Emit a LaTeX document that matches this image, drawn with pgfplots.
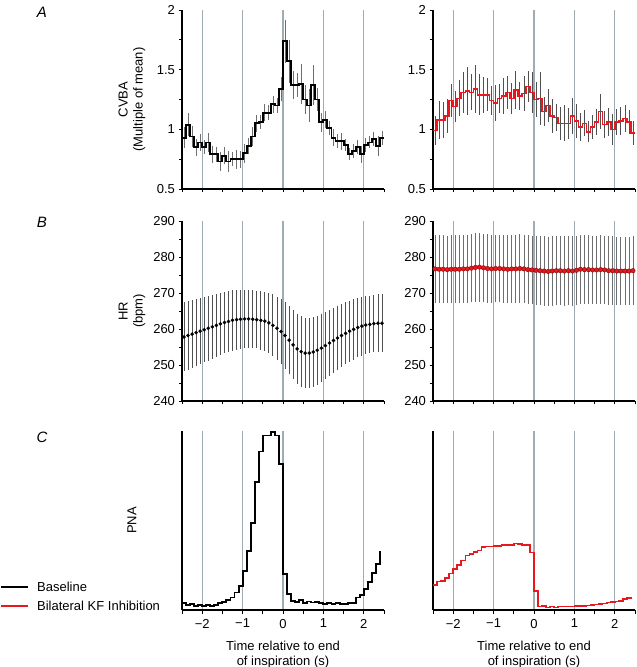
\documentclass[border=0pt]{standalone}
\usepackage{fontspec}
\setmainfont{Liberation Sans}
\usepackage{pgfplots}
\pgfplotsset{compat=1.18}
\usepackage{pgfplotstable}

\definecolor{gridc}{RGB}{160,172,180}
\definecolor{kfred}{RGB}{232,24,30}
\definecolor{kfdark}{RGB}{140,10,10}
\definecolor{errgray}{RGB}{110,110,110}
\definecolor{errdark}{RGB}{80,80,80}
\newcommand{\lab}{\fontsize{13}{15}\selectfont}

% CVBA, bins of 0.1 s (left edge), mean and SEM
\pgfplotstableread{
x y e
-2.5 0.93 0.09
-2.4 1.04 0.10
-2.3 0.94 0.09
-2.2 0.85 0.07
-2.1 0.89 0.07
-2.0 0.85 0.06
-1.9 0.89 0.08
-1.8 0.79 0.07
-1.7 0.79 0.06
-1.6 0.73 0.08
-1.5 0.78 0.07
-1.4 0.73 0.09
-1.3 0.75 0.06
-1.2 0.75 0.08
-1.1 0.75 0.07
-1.0 0.80 0.08
-0.9 0.86 0.07
-0.8 0.94 0.08
-0.7 1.05 0.07
-0.6 1.06 0.06
-0.5 1.14 0.07
-0.4 1.14 0.06
-0.3 1.21 0.07
-0.2 1.20 0.06
-0.1 1.34 0.10
0.0 1.74 0.18
0.1 1.57 0.18
0.2 1.37 0.12
0.3 1.37 0.10
0.4 1.38 0.17
0.5 1.25 0.12
0.6 1.20 0.14
0.7 1.37 0.17
0.8 1.25 0.10
0.9 1.06 0.08
1.0 1.08 0.07
1.1 1.01 0.06
1.2 0.93 0.07
1.3 0.90 0.06
1.4 0.90 0.07
1.5 0.87 0.05
1.6 0.79 0.05
1.7 0.82 0.06
1.8 0.85 0.06
1.9 0.79 0.07
2.0 0.87 0.06
2.1 0.89 0.05
2.2 0.92 0.06
2.3 0.86 0.08
2.4 0.93 0.06
2.5 0.93 0
}\Aleft

\pgfplotstableread{
x y e
-2.5 0.99 0.12
-2.4 1.08 0.16
-2.3 1.08 0.15
-2.2 1.11 0.14
-2.1 1.24 0.14
-2.0 1.19 0.13
-1.9 1.26 0.15
-1.8 1.31 0.17
-1.7 1.32 0.20
-1.6 1.31 0.15
-1.5 1.34 0.20
-1.4 1.29 0.17
-1.3 1.29 0.15
-1.2 1.29 0.14
-1.1 1.24 0.12
-1.0 1.22 0.15
-0.9 1.26 0.12
-0.8 1.28 0.15
-0.7 1.31 0.14
-0.6 1.26 0.13
-0.5 1.33 0.16
-0.4 1.28 0.12
-0.3 1.30 0.15
-0.2 1.36 0.13
-0.1 1.31 0.17
0.0 1.25 0.15
0.1 1.26 0.22
0.2 1.15 0.12
0.3 1.20 0.14
0.4 1.11 0.14
0.5 1.10 0.11
0.6 1.05 0.14
0.7 1.05 0.15
0.8 1.05 0.13
0.9 1.11 0.15
1.0 1.07 0.14
1.1 1.02 0.12
1.2 1.05 0.11
1.3 0.98 0.09
1.4 1.02 0.10
1.5 1.06 0.11
1.6 1.15 0.15
1.7 1.04 0.11
1.8 1.06 0.12
1.9 1.00 0.13
2.0 1.06 0.11
2.1 1.07 0.12
2.2 1.09 0.11
2.3 1.06 0.10
2.4 0.97 0.10
2.5 0.97 0
}\Aright

% HR, mean and SD
\pgfplotstableread{
x y e
-2.45 257.8 9.6
-2.35 258.2 9.5
-2.25 258.6 9.4
-2.15 259.0 9.3
-2.05 259.4 9.2
-1.95 259.8 9.1
-1.85 260.2 9.0
-1.75 260.6 8.9
-1.65 261.0 8.8
-1.55 261.4 8.7
-1.45 261.8 8.6
-1.35 262.1 8.5
-1.25 262.4 8.4
-1.15 262.6 8.3
-1.05 262.7 8.2
-0.95 262.8 8.1
-0.85 262.8 8.0
-0.75 262.7 8.0
-0.65 262.6 8.0
-0.55 262.4 8.1
-0.45 262.2 8.2
-0.35 261.7 8.4
-0.25 261.0 8.6
-0.15 260.2 8.8
-0.05 259.3 9.0
0.05 258.2 9.2
0.15 256.9 9.4
0.25 255.6 9.6
0.35 254.5 9.7
0.45 253.7 9.8
0.55 253.3 9.8
0.65 253.3 9.8
0.75 253.6 9.7
0.85 254.1 9.6
0.95 254.7 9.5
1.05 255.4 9.4
1.15 256.1 9.2
1.25 256.8 9.0
1.35 257.5 8.9
1.45 258.2 8.8
1.55 258.8 8.6
1.65 259.4 8.5
1.75 259.9 8.4
1.85 260.4 8.3
1.95 260.8 8.2
2.05 261.1 8.1
2.15 261.3 8.0
2.25 261.5 8.0
2.35 261.6 8.0
2.45 261.6 8.0
}\Bleft

\pgfplotstableread{
x y e
-2.45 276.7 9.4
-2.35 276.6 9.4
-2.25 276.6 9.4
-2.15 276.5 9.4
-2.05 276.6 9.4
-1.95 276.6 9.4
-1.85 276.6 9.4
-1.75 276.7 9.4
-1.65 276.7 9.5
-1.55 276.9 9.5
-1.45 277.1 9.6
-1.35 277.2 9.6
-1.25 277.0 9.5
-1.15 276.8 9.5
-1.05 276.7 9.4
-0.95 276.8 9.4
-0.85 276.8 9.4
-0.75 276.7 9.4
-0.65 276.6 9.4
-0.55 276.7 9.4
-0.45 276.7 9.5
-0.35 276.8 9.5
-0.25 276.7 9.5
-0.15 276.5 9.5
-0.05 276.4 9.5
0.05 276.3 9.5
0.15 276.2 9.6
0.25 276.1 9.6
0.35 276.0 9.6
0.45 276.1 9.6
0.55 276.2 9.6
0.65 276.2 9.6
0.75 276.1 9.6
0.85 276.2 9.6
0.95 276.1 9.6
1.05 276.3 9.6
1.15 276.6 9.6
1.25 276.5 9.6
1.35 276.5 9.5
1.45 276.4 9.5
1.55 276.4 9.5
1.65 276.5 9.5
1.75 276.4 9.5
1.85 276.2 9.5
1.95 276.2 9.5
2.05 276.1 9.5
2.15 276.1 9.5
2.25 276.1 9.5
2.35 276.1 9.5
2.45 276.2 9.5
}\Bright

% PNA, normalised
\pgfplotstableread{
x y
-2.5 0.037
-2.4 0.028
-2.3 0.033
-2.2 0.024
-2.1 0.030
-2.0 0.022
-1.9 0.026
-1.8 0.024
-1.7 0.030
-1.6 0.037
-1.5 0.043
-1.4 0.058
-1.3 0.070
-1.2 0.098
-1.1 0.135
-1.0 0.22
-0.9 0.33
-0.8 0.49
-0.7 0.72
-0.6 0.89
-0.5 0.98
-0.4 0.98
-0.3 1.00
-0.2 0.98
-0.1 0.82
0.0 0.20
0.1 0.09
0.2 0.05
0.3 0.045
0.4 0.055
0.5 0.040
0.6 0.048
0.7 0.042
0.8 0.045
0.9 0.040
1.0 0.035
1.1 0.040
1.2 0.035
1.3 0.038
1.4 0.035
1.5 0.035
1.6 0.040
1.7 0.040
1.8 0.070
1.9 0.083
2.0 0.12
2.1 0.157
2.2 0.207
2.3 0.26
2.4 0.33
}\Cleft

\pgfplotstableread{
x y
-2.5 0.142
-2.4 0.159
-2.3 0.164
-2.2 0.180
-2.1 0.206
-2.0 0.230
-1.9 0.254
-1.8 0.277
-1.7 0.305
-1.6 0.314
-1.5 0.327
-1.4 0.333
-1.3 0.355
-1.2 0.357
-1.1 0.357
-1.0 0.360
-0.9 0.360
-0.8 0.364
-0.7 0.364
-0.6 0.366
-0.5 0.374
-0.4 0.370
-0.3 0.364
-0.2 0.364
-0.1 0.323
0.0 0.105
0.1 0.019
0.2 0.022
0.3 0.015
0.4 0.020
0.5 0.015
0.6 0.019
0.7 0.019
0.8 0.020
0.9 0.020
1.0 0.022
1.1 0.022
1.2 0.024
1.3 0.026
1.4 0.028
1.5 0.030
1.6 0.034
1.7 0.037
1.8 0.041
1.9 0.045
2.0 0.047
2.1 0.052
2.2 0.062
2.3 0.067
2.4 0.065
}\Cright

\pgfplotsset{
  panel/.style={
    scale only axis, width=202pt, height=179pt,
    xmin=-2.5, xmax=2.5,
    axis x line*=bottom, axis y line*=left,
    axis line style={-, line width=1.1pt},
    tick align=outside,
    major tick length=3.5pt, minor tick length=3.5pt,
    tick style={black, line width=0.8pt},
    xtick={-2,-1,0,1,2}, minor xtick={-2.5,-1.5,-0.5,0.5,1.5,2.5},
    xticklabels={},
    xmajorgrids, major x grid style={gridc, line width=1.1pt},
    tick label style={font=\lab},
    xticklabel style={yshift=-2pt},
    /pgf/number format/assume math mode=true,
    ylabel style={font=\lab, align=center, at={(axis description cs:-0.2475,0.5)}, anchor=center},
    xlabel style={font=\lab, align=center, yshift=-5.5pt},
  },
  errs/.style={forget plot, draw=none, no marks,
    error bars/.cd, y dir=both, y explicit, error mark=none,
    error bar style={draw=#1, line width=0.8pt}},
}

\begin{document}
\begin{tikzpicture}
\useasboundingbox (0,0) rectangle (637pt,667pt);

% A: CVBA
\begin{axis}[panel, at={(182pt,478pt)}, ymin=0.5, ymax=2,
  ytick={0.5,1,1.5,2}, minor ytick={0.75,1.25,1.75},
  ylabel={CVBA\\(Multiple of mean)}]
\addplot[errs=errgray] table[x expr=\thisrow{x}+0.05, y=y, y error=e] \Aleft;
\addplot[const plot, black, line width=1.9pt] table[x=x, y=y] \Aleft;
\end{axis}
\begin{axis}[panel, at={(433pt,478pt)}, ymin=0.5, ymax=2,
  ytick={0.5,1,1.5,2}, minor ytick={0.75,1.25,1.75}]
\addplot[errs=errdark] table[x expr=\thisrow{x}+0.05, y=y, y error=e] \Aright;
\addplot[const plot, kfred, line width=1.6pt] table[x=x, y=y] \Aright;
\end{axis}

% B: HR
\begin{axis}[panel, at={(182pt,266pt)}, height=180pt, ymin=240, ymax=290,
  ytick={240,250,...,290}, minor ytick={245,255,...,285},
  ylabel={HR\\(bpm)}]
\addplot[errs=errdark] table[x=x, y=y, y error=e] \Bleft;
\addplot[only marks, mark=*, mark size=1.6pt, black] table[x=x, y=y] \Bleft;
\end{axis}
\begin{axis}[panel, at={(433pt,266pt)}, height=180pt, ymin=240, ymax=290,
  ytick={240,250,...,290}, minor ytick={245,255,...,285}]
\addplot[errs=errgray] table[x=x, y=y, y error=e] \Bright;
\addplot[only marks, mark=*, mark size=2.2pt, mark options={fill=kfred, draw=kfdark, line width=0.5pt}] table[x=x, y=y] \Bright;
\end{axis}

% C: PNA
\begin{axis}[panel, at={(182pt,57pt)}, ymin=0, ymax=1.005, ytick=\empty,
  xticklabels={−2,−1,0,1,2},
  ylabel={PNA}, xlabel={Time relative to end\\of inspiration (s)},
  legend style={draw=none, fill=none, at={(axis description cs:-0.901,0.073)},
    anchor=west, font=\lab, inner sep=0pt, row sep=4pt},
  legend cell align=left,
  legend image code/.code={\draw[#1, line width=2pt] (0pt,0pt) -- (27pt,0pt); \path (33pt,0pt);}]
\addplot[const plot, black, line width=1.9pt] table[x=x, y=y] \Cleft;
\addlegendentry{Baseline}
\addlegendimage{kfred}
\addlegendentry{Bilateral KF Inhibition}
\end{axis}
\begin{axis}[panel, at={(433pt,57pt)}, ymin=0, ymax=1.005, ytick=\empty,
  xticklabels={−2,−1,0,1,2},
  xlabel={Time relative to end\\of inspiration (s)}]
\addplot[const plot, kfred, line width=1.6pt] table[x=x, y=y] \Cright;
\end{axis}

\node[font=\fontsize{15}{18}\selectfont\itshape] at (42pt,655pt) {A};
\node[font=\fontsize{15}{18}\selectfont\itshape] at (42pt,445pt) {B};
\node[font=\fontsize{15}{18}\selectfont\itshape] at (42pt,230pt) {C};
\end{tikzpicture}
\end{document}
